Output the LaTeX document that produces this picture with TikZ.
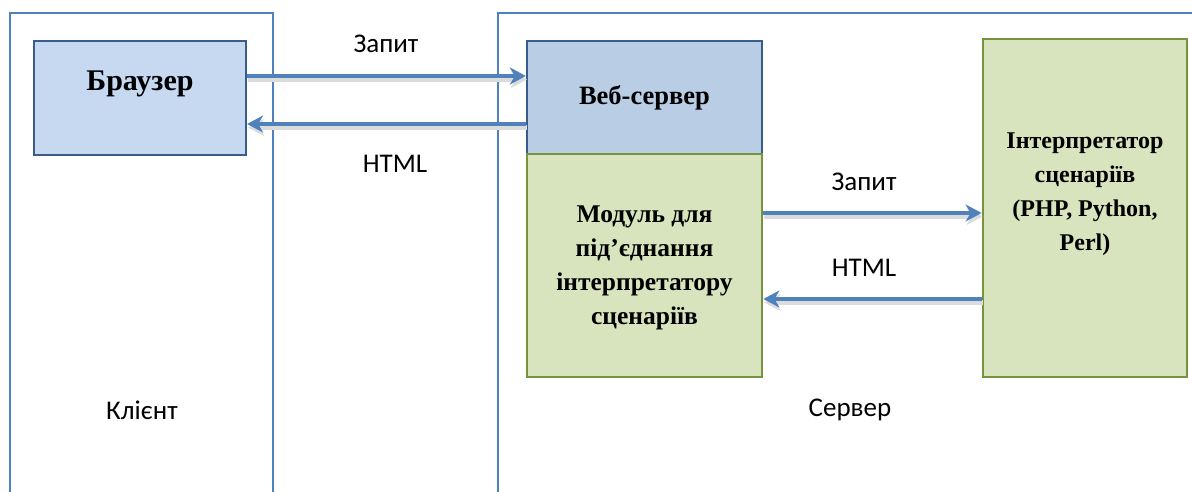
\documentclass[tikz,border=0pt]{standalone}
\usepackage{fontspec}
\setmainfont{Liberation Serif}
\newfontfamily\labelfont{Carlito}
\usetikzlibrary{arrows.meta}

\definecolor{frameblue}{HTML}{4F81BD}
\definecolor{boxblue}{HTML}{385D8A}
\definecolor{lightblue}{HTML}{C6D9F1}
\definecolor{midblue}{HTML}{B9CDE5}
\definecolor{palegreen}{HTML}{D7E4BD}
\definecolor{olivegreen}{HTML}{77933C}

\tikzset{
  frame/.style={draw=frameblue, line width=2pt},
  bluebox/.style={draw=boxblue, line width=2.2pt, inner sep=0pt},
  greenbox/.style={draw=olivegreen, line width=2.8pt, fill=palegreen, inner sep=0pt},
  boxtext/.style={font=\bfseries\fontsize{24}{34}\selectfont, align=center},
  flowlabel/.style={font=\labelfont\fontsize{27}{32}\selectfont},
  conn/.style={draw=frameblue, line width=4.8pt,
    -{Stealth[length=16pt, width=17pt, inset=5pt]},
    preaction={draw=black!14, line width=5.5pt,
      transform canvas={shift={(1pt,-3.5pt)}}}}
}

\begin{document}
\begin{tikzpicture}[x=1pt, y=-1pt]
\useasboundingbox (0,0) rectangle (1192,492);
\clip (0,0) rectangle (1192,492);

% client and server areas
\draw[frame] (10,520) -- (10,13) -- (273,13) -- (273,520);
\draw[frame] (498,520) -- (498,13) -- (1220,13);
\node[flowlabel] (clientLabel) at (142,410) {Клієнт};
\node[flowlabel] (serverLabel) at (850,410) {Сервер};

% boxes
\node[bluebox, fill=lightblue, minimum width=212pt, minimum height=114pt] (browser) at (140,98) {};
\node[boxtext, font=\bfseries\fontsize{30}{34}\selectfont] (browserText) at (140,84) {Браузер};

\node[bluebox, fill=midblue, minimum width=235pt, minimum height=113pt] (web) at (644.5,97.5) {};
\node[boxtext, font=\bfseries\fontsize{26.5}{34}\selectfont] (webText) at (644.5,98) {Веб-сервер};

\node[greenbox, minimum width=235pt, minimum height=223pt] (module) at (644.5,265.5) {};
\node[boxtext, font=\bfseries\fontsize{25.5}{34}\selectfont] (moduleText) at (644.5,268) {Модуль для\\під’єднання\\інтерпретатору\\сценаріїв};

\node[greenbox, minimum width=204pt, minimum height=338pt] (interp) at (1085,208) {};
\node[boxtext] (interpText) at (1085,194) {Інтерпретатор\\сценаріїв\\(PHP, Python,\\Perl)};

% request / response arrows
\draw[conn] ([yshift=22pt]browser.east) -- ([yshift=21.5pt]web.west);
\draw[conn] ([yshift=-26.5pt]web.west) -- ([yshift=-26pt]browser.east);
\draw[conn] ([yshift=52.5pt]module.east) -- ([yshift=-5pt]interp.west);
\draw[conn] ([yshift=-91pt]interp.west) -- ([yshift=-33.5pt]module.east);

\node[flowlabel] (reqTop) at (386,44) {Запит};
\node[flowlabel] (respTop) at (395,164) {HTML};
\node[flowlabel] (reqRight) at (864,182) {Запит};
\node[flowlabel] (respRight) at (864,268) {HTML};
\end{tikzpicture}
\end{document}
